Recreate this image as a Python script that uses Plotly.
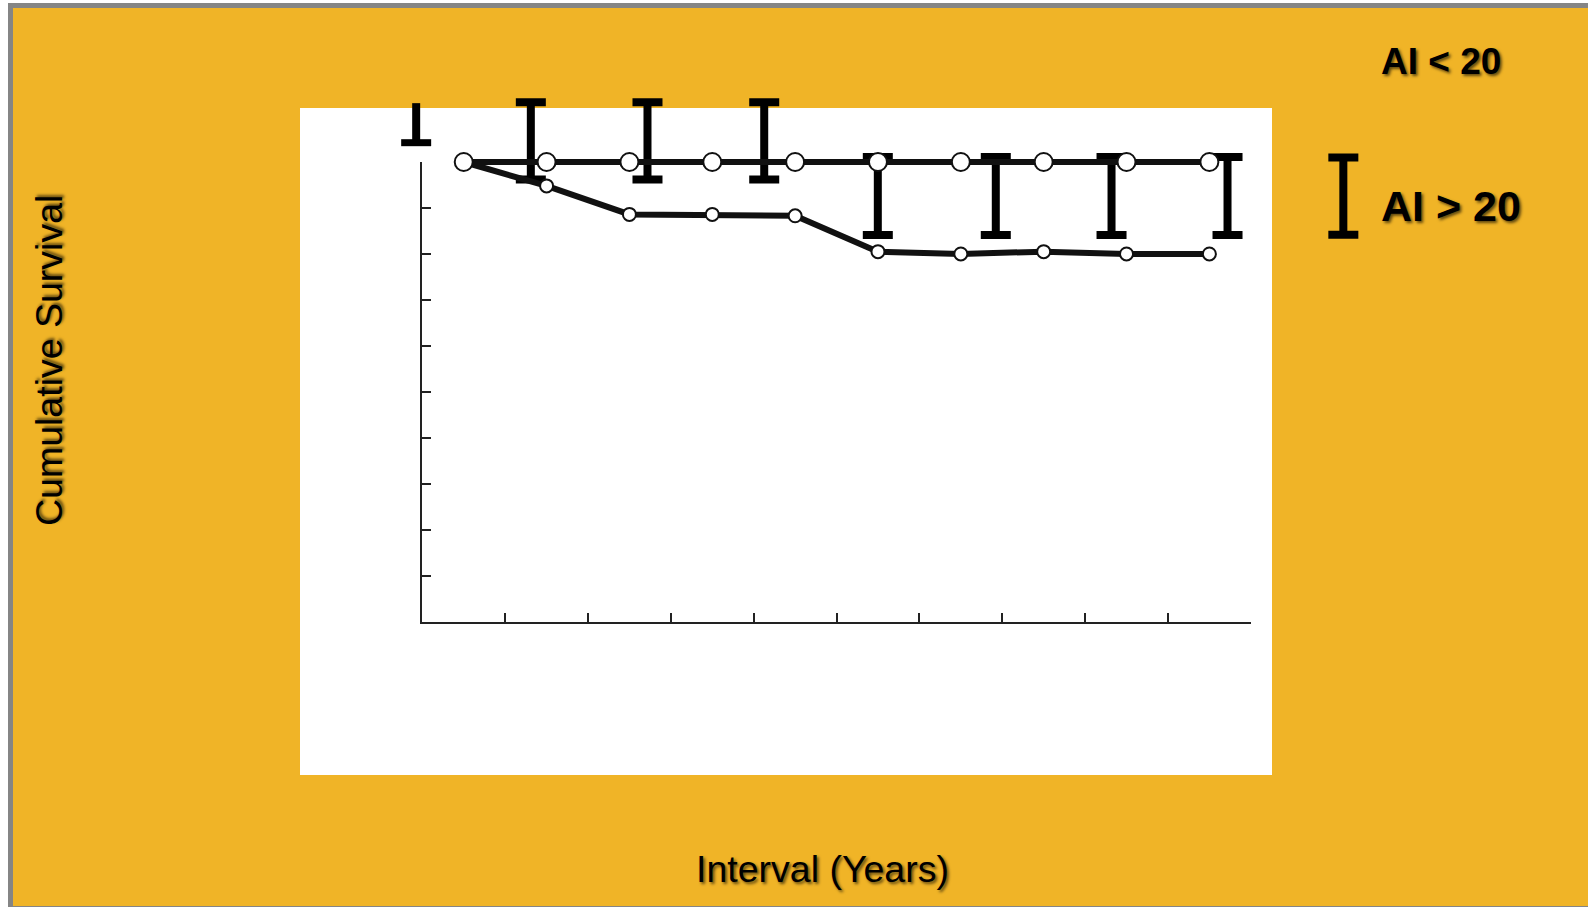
import plotly.graph_objects as go

# ---------------- data ----------------
interval_years = [0.5, 1.5, 2.5, 3.5, 4.5, 5.5, 6.5, 7.5, 8.5, 9.5]
survival_ai_lt_20 = [1.0, 1.0, 1.0, 1.0, 1.0, 1.0, 1.0, 1.0, 1.0, 1.0]
survival_ai_gt_20 = [1.0, 0.948, 0.886, 0.886, 0.883, 0.805, 0.800, 0.805, 0.800, 0.800]

# I-beam (error bar) glyphs as drawn on the slide: position, centre, half length
errbar_x = [1.310, 2.718, 4.127, 5.498, 6.922, 8.319, 9.719, 11.117]
errbar_center = [1.046, 1.046, 1.046, 0.926, 0.926, 0.926, 0.926, 0.926]
errbar_half = [0.084, 0.084, 0.084, 0.085, 0.085, 0.085, 0.085, 0.084]

# truncated glyph at the top-left (stem above a lower cap only)
partial_x = [-0.074]
partial_cap_y = [1.042]
partial_stem_len = [0.086]
partial_cap_half = [0.181]

x_ticks = [0, 1, 2, 3, 4, 5, 6, 7, 8, 9, 10]
y_ticks = [0, 0.1, 0.2, 0.3, 0.4, 0.5, 0.6, 0.7, 0.8, 0.9, 1.0]

# ---------------- layout geometry ----------------
W, H = 1588, 907
X0_PX, X_PER_UNIT = 422.3, 82.85      # pixel of x=0, pixels per year
Y0_PX, Y_PER_UNIT = 621.8, 459.8      # pixel of y=0, pixels per unit survival

ORANGE = "#F0B427"
GRAY = "#858585"
INK = "#111111"
FONT = "Liberation Sans, Arial, sans-serif"
SHADOW = "2px 2px 3px rgba(0,0,0,0.6)"

fig = go.Figure()

# I-beam glyphs
fig.add_trace(go.Scatter(
    x=errbar_x, y=errbar_center, mode="markers",
    marker=dict(size=1, color="rgba(0,0,0,0)"),
    error_y=dict(type="data", array=errbar_half, symmetric=True,
                 color="black", thickness=8, width=15),
    cliponaxis=False, showlegend=False, hoverinfo="skip"))

# truncated glyph (stem up + horizontal cap)
fig.add_trace(go.Scatter(
    x=partial_x, y=partial_cap_y, mode="markers",
    marker=dict(size=1, color="rgba(0,0,0,0)"),
    error_y=dict(type="data", symmetric=False, array=partial_stem_len,
                 arrayminus=[0], color="black", thickness=8, width=0),
    error_x=dict(type="data", symmetric=True, array=partial_cap_half,
                 color="black", thickness=7, width=0),
    cliponaxis=False, showlegend=False, hoverinfo="skip"))

# series AI > 20
fig.add_trace(go.Scatter(
    x=interval_years, y=survival_ai_gt_20, mode="lines+markers",
    line=dict(color=INK, width=6),
    marker=dict(symbol="circle", size=13, color="white", line=dict(color=INK, width=2)),
    cliponaxis=False, showlegend=False, hoverinfo="skip"))

# series AI < 20
fig.add_trace(go.Scatter(
    x=interval_years, y=survival_ai_lt_20, mode="lines+markers",
    line=dict(color=INK, width=6),
    marker=dict(symbol="circle", size=18, color="white", line=dict(color=INK, width=2)),
    cliponaxis=False, showlegend=False, hoverinfo="skip"))

# empty trace to materialise the axes subplot
fig.add_trace(go.Scatter(x=[], y=[], xaxis="x2", yaxis="y2", showlegend=False))

shapes = [
    dict(type="rect", xref="paper", yref="paper", layer="below",
         x0=8 / W, x1=1.01, y0=-0.01, y1=1 - 3 / H,
         fillcolor=GRAY, line=dict(width=0)),
    dict(type="rect", xref="paper", yref="paper", layer="below",
         x0=13 / W, x1=1.01, y0=1 - 906 / H, y1=1 - 8 / H,
         fillcolor=ORANGE, line=dict(width=0)),
    dict(type="rect", xref="paper", yref="paper", layer="below",
         x0=300 / W, x1=1272 / W, y0=1 - 775 / H, y1=1 - 108 / H,
         fillcolor="white", line=dict(width=0)),
]

annotations = [
    dict(text="Cumulative Survival", xref="paper", yref="paper",
         x=49 / W, y=1 - 361 / H, xanchor="center", yanchor="middle",
         textangle=-90, showarrow=False,
         font=dict(family=FONT, size=37.5, color="black", shadow=SHADOW)),
    dict(text="Interval (Years)", xref="paper", yref="paper",
         x=823 / W, y=1 - 869 / H, xanchor="center", yanchor="middle",
         showarrow=False,
         font=dict(family=FONT, size=37.5, color="black", shadow=SHADOW)),
    dict(text="<b>AI &lt; 20</b>", xref="paper", yref="paper",
         x=1379 / W, y=1 - 61 / H, xanchor="left", yanchor="middle",
         showarrow=False,
         font=dict(family=FONT, size=37, color="black", shadow=SHADOW)),
    dict(text="<b>AI &gt; 20</b>", xref="paper", yref="paper",
         x=1379 / W, y=1 - 206 / H, xanchor="left", yanchor="middle",
         showarrow=False,
         font=dict(family=FONT, size=43, color="black", shadow=SHADOW)),
]

fig.update_layout(
    width=W, height=H,
    margin=dict(l=0, r=0, t=0, b=0, pad=0),
    paper_bgcolor="white",
    plot_bgcolor="rgba(0,0,0,0)",
    showlegend=False,
    shapes=shapes,
    annotations=annotations,
    xaxis=dict(domain=[0, 1], range=[-X0_PX / X_PER_UNIT, (W - X0_PX) / X_PER_UNIT],
               visible=False, fixedrange=True),
    yaxis=dict(domain=[0, 1], range=[(Y0_PX - H) / Y_PER_UNIT, Y0_PX / Y_PER_UNIT],
               visible=False, fixedrange=True),
    xaxis2=dict(domain=[X0_PX / W, (X0_PX + 10 * X_PER_UNIT) / W], anchor="y2",
                range=[x_ticks[0], x_ticks[-1]], tickvals=x_ticks,
                showticklabels=False, ticks="inside", ticklen=9, tickwidth=2,
                tickcolor="#222", showline=True, linewidth=2, linecolor="#222",
                showgrid=False, zeroline=False, fixedrange=True),
    yaxis2=dict(domain=[1 - Y0_PX / H, 1 - (Y0_PX - Y_PER_UNIT) / H], anchor="x2",
                range=[y_ticks[0], y_ticks[-1]], tickvals=y_ticks,
                showticklabels=False, ticks="inside", ticklen=9, tickwidth=2,
                tickcolor="#222", showline=True, linewidth=2, linecolor="#222",
                showgrid=False, zeroline=False, fixedrange=True),
)

fig.write_html(
    "out.html",
    config={"displayModeBar": False},
    post_script="document.body.style.margin='0px';document.body.style.overflow='hidden';",
)
